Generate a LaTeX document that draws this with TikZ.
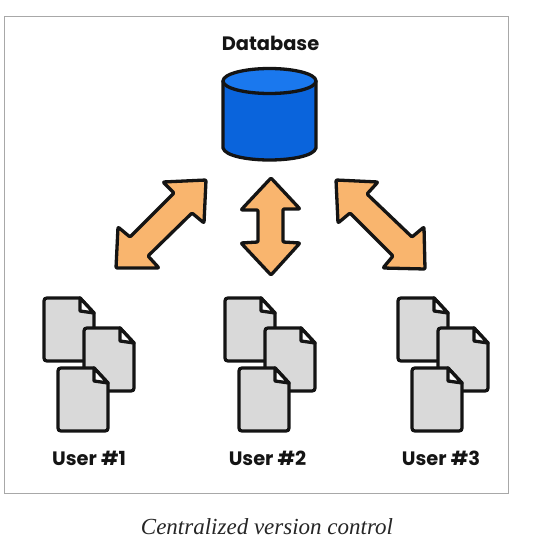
\documentclass[tikz,border=0pt]{standalone}
\usepackage{fontspec}
\setmainfont{Poppins}
\newfontfamily\capfont{Liberation Serif}
\definecolor{dbside}{HTML}{0A64DC}
\definecolor{dbtop}{HTML}{1A78EE}
\definecolor{arrowfill}{HTML}{F9B56E}
\definecolor{docfill}{HTML}{D9D9D9}
\definecolor{framecol}{HTML}{A8A8A8}
\definecolor{inkcol}{HTML}{141414}
\tikzset{
  x=1pt,y=-1pt,
  ink/.style={draw=inkcol,line width=3.3pt,line join=round,line cap=round},
  blockarrow/.style={ink,fill=arrowfill,rounded corners=1pt},
  docpage/.style={ink,fill=docfill},
  label/.style={font=\bfseries\fontsize{19.4}{22}\selectfont,text=inkcol,inner sep=0pt},
  caption/.style={font=\capfont\itshape\fontsize{23}{26}\selectfont,text=black!85,inner sep=0pt}
}
\newcommand{\onedoc}[2]{%
  \begin{scope}[shift={(#1,#2)}]
    \draw[docpage] (3,0) -- (36,0) -- (50,15) -- (50,60) .. controls (50,62) and (49,63) .. (47,63)
      -- (3,63) .. controls (1,63) and (0,62) .. (0,60) -- (0,3) .. controls (0,1) and (1,0) .. (3,0) -- cycle;
    \draw[ink,fill=white!92!docfill] (36,0) -- (36,13) -- (50,15) -- cycle;
  \end{scope}}
\newcommand{\docgroup}[1]{%
  \onedoc{44+#1}{298}
  \onedoc{84+#1}{328}
  \onedoc{58+#1}{368}}
\begin{document}
\begin{tikzpicture}
\useasboundingbox (0,0) rectangle (546,538);
\fill[white] (0,0) rectangle (546,538);
\draw[framecol,line width=1pt] (4,16) rectangle (508,493);
\node[label] (dbl) at (270.5,43) {Database};
% cylinder
\draw[ink,fill=dbside] (223,81) -- (223,148) .. controls (225,156) and (248,160) .. (269.5,160)
  .. controls (291,160) and (314,156) .. (316,148) -- (316,81) -- cycle;
\draw[ink,fill=dbtop] (269.5,81) ellipse [x radius=46.5,y radius=12.5];
% arrows
\draw[blockarrow] (206,180) -- (163,182) -- (174,193) -- (130,237) -- (118,227) -- (116,268)
  -- (159,268) -- (148,256) -- (192,213) -- (204,223) -- cycle;
\draw[blockarrow] (271,178) -- (300,209) -- (283,209) -- (283,242) -- (300,243) -- (271,275)
  -- (241,243) -- (258,242) -- (258,210) -- (241,210) -- cycle;
\draw[blockarrow] (336,180) -- (378,182) -- (367,194) -- (412,237) -- (424,227) -- (425,269)
  -- (383,268) -- (393,256) -- (350,213) -- (338,223) -- cycle;
% documents
\docgroup{0}
\docgroup{181}
\docgroup{354}
\node[label] (u1) at (89,458) {User \#1};
\node[label] (u2) at (267.5,458) {User \#2};
\node[label] (u3) at (441,458) {User \#3};
\node[caption,anchor=base] (cap) at (267,534) {Centralized version control};
\end{tikzpicture}
\end{document}
